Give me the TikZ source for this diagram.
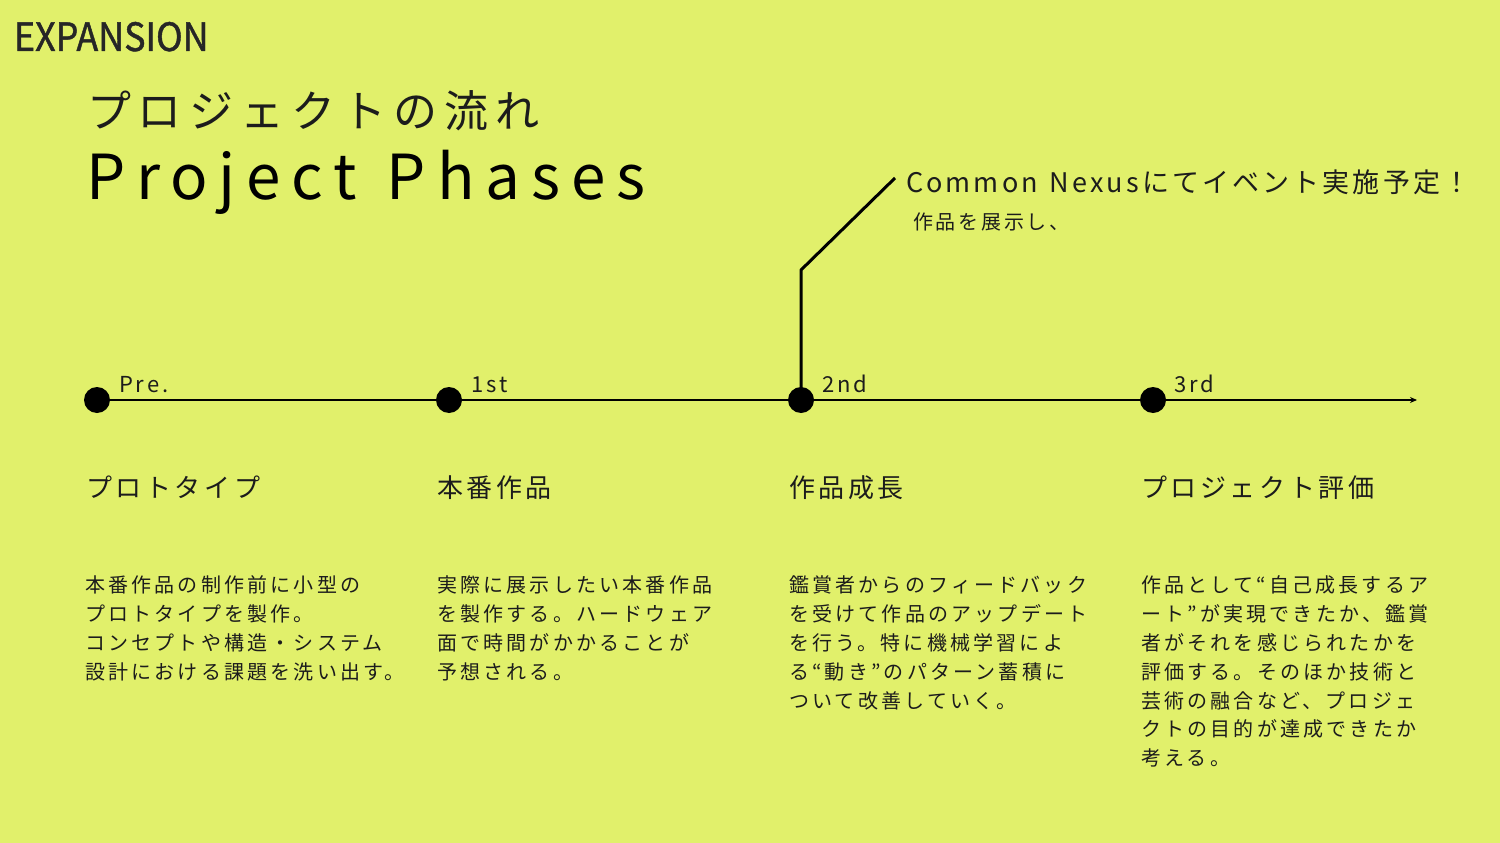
\documentclass[tikz,border=0pt]{standalone}
\usepackage{fontspec}
\setmainfont{Noto Sans CJK JP}
\newfontfamily\jpf{Noto Sans CJK JP}
\usetikzlibrary{arrows.meta}
\definecolor{bg}{HTML}{E1F06B}
\definecolor{ink}{HTML}{1C1C1C}
\definecolor{titlegray}{HTML}{262626}
\tikzset{
  txt/.style={inner sep=0pt, outer sep=0pt, text=ink},
  dot/.style={circle, fill=black, minimum size=26pt, inner sep=0pt},
  phaselabel/.style={txt, anchor=base west, font=\fontsize{22}{22}\selectfont\addfontfeatures{LetterSpace=14}},
  heading/.style={txt, anchor=base west, font=\fontsize{26}{26}\selectfont\addfontfeatures{LetterSpace=14}},
  body/.style={txt, anchor=north west, align=left, font=\fontsize{20}{28.8}\selectfont\addfontfeatures{LetterSpace=16}},
  tline/.style={line width=2pt, black},
  callout/.style={line width=3pt, black}
}
\begin{document}
\begin{tikzpicture}[x=1pt,y=-1pt]
\fill[bg] (0,0) rectangle (1500,843);
\useasboundingbox (0,0) rectangle (1500,843);

% header
\node[txt, text=titlegray, anchor=base west, xscale=0.92, font=\fontsize{39}{39}\selectfont\addfontfeatures{FakeBold=1.2}] (exp) at (14,51) {EXPANSION};
\node[txt, anchor=base west, font=\fontsize{44}{44}\selectfont\addfontfeatures{LetterSpace=16}] (tja) at (87,128) {プロジェクトの流れ};
\node[txt, text=black, anchor=base west, font=\fontsize{62}{62}\selectfont\addfontfeatures{LetterSpace=17.5}] (ten) at (86,199) {Project\hspace{30pt}Phases};

% timeline
\node[dot] (d0) at (97,400) {};
\node[dot] (d1) at (449,400) {};
\node[dot] (d2) at (801,400) {};
\node[dot] (d3) at (1153,400) {};
\coordinate (tend) at (1417,400);
\draw[tline] (d0) -- (d1);
\draw[tline] (d1) -- (d2);
\draw[tline] (d2) -- (d3);
\draw[tline, -{Stealth[length=7pt,width=6pt]}] (d3) -- (tend);

\node[phaselabel] (l0) at (119,392) {Pre.};
\node[phaselabel] (l1) at (471,392) {1st};
\node[phaselabel] (l2) at (822,392) {2nd};
\node[phaselabel] (l3) at (1174,392) {3rd};

% callout
\coordinate (cbend) at (801,270);
\coordinate (ctop) at (895,178);
\draw[callout, line join=round] (d2.center) -- (cbend) -- (ctop);
\node[txt, anchor=base west, font=\fontsize{27}{27}\selectfont\addfontfeatures{LetterSpace=11.5}] (c1) at (906,192) {Common\hspace{12pt}Nexusにてイベント実施予定！};
\node[txt, anchor=base west, font=\fontsize{20}{20}\selectfont\addfontfeatures{LetterSpace=14}] (c2) at (913,229) {作品を展示し、};

% headings
\node[heading] (h0) at (86,497) {プロトタイプ};
\node[heading] (h1) at (437,497) {本番作品};
\node[heading] (h2) at (789,497) {作品成長};
\node[heading] (h3) at (1141,497) {プロジェクト評価};

% bodies
\node[body] (b0) at (85,576) {本番作品の制作前に小型の\\プロトタイプを製作。\\コンセプトや構造・システム\\設計における課題を洗い出す。};
\node[body] (b1) at (437,576) {実際に展示したい本番作品\\を製作する。ハードウェア\\面で時間がかかることが\\予想される。};
\node[body] (b2) at (789,576) {鑑賞者からのフィードバック\\を受けて作品のアップデート\\を行う。特に機械学習によ\\る“動き”のパターン蓄積に\\ついて改善していく。};
\node[body] (b3) at (1141,576) {作品として“自己成長するア\\ート”が実現できたか、鑑賞\\者がそれを感じられたかを\\評価する。そのほか技術と\\芸術の融合など、プロジェ\\クトの目的が達成できたか\\考える。};
\end{tikzpicture}
\end{document}
